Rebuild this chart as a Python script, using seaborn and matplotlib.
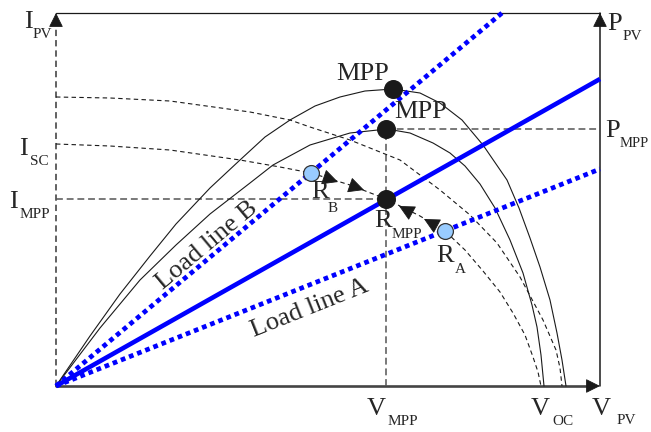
import numpy as np
import pandas as pd
import matplotlib
matplotlib.use("Agg")
import matplotlib.pyplot as plt
import seaborn as sns

# ---------------- data (schematic units) ----------------
# P-V curve, higher irradiance
pv_hi_v = [0, 34, 64, 94, 120, 154, 184, 209, 234, 259, 284, 309, 337, 364, 384, 406, 427, 451, 463, 474, 484, 494, 501, 506, 510]
pv_hi_p = [0, 50, 92, 130, 162, 198, 226, 249, 266, 280, 289, 295, 297, 293, 283, 266, 241, 206, 178, 148, 119, 86, 53, 26, 0]
# P-V curve, lower irradiance
pv_lo_v = [0, 44, 84, 120, 154, 194, 217, 254, 294, 331, 354, 377, 394, 409, 424, 439, 454, 467, 476, 481, 485, 488]
pv_lo_p = [0, 58, 106, 141, 172, 203, 221, 241, 253, 257, 253, 243, 233, 220, 202, 178, 146, 113, 81, 59, 31, 0]
# I-V curve, higher irradiance
iv_hi_v = [0, 54, 114, 194, 234, 254, 294, 344, 384, 414, 441, 464, 487, 500, 504, 506]
iv_hi_i = [289, 288, 285, 274, 266, 259, 246, 226, 196, 171, 143, 109, 66, 36, 18, 0]
# I-V curve, lower irradiance
iv_lo_v = [0, 54, 114, 184, 224, 255, 294, 330, 364, 389, 409, 427, 444, 457, 469, 477, 482, 485]
iv_lo_i = [242, 240, 236, 226, 219, 213, 201, 187, 170, 155, 136, 115, 94, 73, 51, 29, 14, 0]

# operating points
mpp_hi = (337, 297)
mpp_lo = (330, 257)
r_mpp = (330, 187)
r_b = (255, 213)
r_a = (389, 155)

# load lines (from origin to end point)
load_b_end = (446, 373)
load_mpp_end = (544, 307)
load_a_end = (544, 217)

v_axis_max = 544
y_axis_max = 373

# ---------------- style ----------------
sns.set_theme(style="white")
plt.rcParams["font.family"] = ["Liberation Serif", "DejaVu Serif"]

fig = plt.figure(figsize=(6.51, 4.32), dpi=100)
ax = fig.add_axes([0, 0, 1, 1])
ax.set_xlim(-56, 595)
ax.set_ylim(-46, 386)
ax.axis("off")

BLUE = "#0000ff"
GREY = "#555555"

def head(tip, direction, scale=16, color="k"):
    d = np.asarray(direction, float)
    d = d / np.hypot(*d)
    tail = np.asarray(tip) - d * 12
    ax.annotate("", xy=tip, xytext=tail,
                arrowprops=dict(arrowstyle="-|>,head_length=0.5,head_width=0.25",
                                mutation_scale=scale, color=color, lw=0.6,
                                shrinkA=0, shrinkB=0), zorder=6)

# frame / axes
ax.plot([0, 0], [0, y_axis_max - 6], color=GREY, lw=1.3, linestyle=(0, (3.5, 2.2)), zorder=2)
ax.plot([0, v_axis_max], [y_axis_max, y_axis_max], color="k", lw=0.9, zorder=2)
ax.plot([v_axis_max, v_axis_max], [0, y_axis_max], color="k", lw=1.1, zorder=2)
ax.plot([0, v_axis_max - 6], [0, 0], color="#444444", lw=1.9, zorder=2)
head((0, y_axis_max), (0, 1), scale=18)
head((v_axis_max, y_axis_max), (0, 1), scale=18)
head((v_axis_max, 0), (1, 0), scale=18)

# reference dashed lines
ref_ls = (0, (4.5, 2.5))
ax.plot([0, r_mpp[0]], [r_mpp[1], r_mpp[1]], color=GREY, lw=1.1, linestyle=ref_ls, zorder=2)
ax.plot([mpp_lo[0], v_axis_max], [mpp_lo[1], mpp_lo[1]], color=GREY, lw=1.1, linestyle=ref_ls, zorder=2)
ax.plot([mpp_lo[0], mpp_lo[0]], [0, mpp_lo[1]], color=GREY, lw=1.1, linestyle=ref_ls, zorder=2)

# curves
sns.lineplot(x=pv_hi_v, y=pv_hi_p, ax=ax, color="k", lw=0.8, errorbar=None, zorder=3)
sns.lineplot(x=pv_lo_v, y=pv_lo_p, ax=ax, color="k", lw=0.8, errorbar=None, zorder=3)
sns.lineplot(x=iv_hi_v, y=iv_hi_i, ax=ax, color="k", lw=0.8, errorbar=None,
             linestyle=(0, (4, 3)), zorder=3)
sns.lineplot(x=iv_lo_v, y=iv_lo_i, ax=ax, color="k", lw=0.8, errorbar=None,
             linestyle=(0, (4, 3)), zorder=3)

# load lines
ax.plot([0, load_mpp_end[0]], [0, load_mpp_end[1]], color=BLUE, lw=3.3, solid_capstyle="butt", zorder=4)
ax.plot([0, load_b_end[0]], [0, load_b_end[1]], color=BLUE, lw=3.4, linestyle=(0, (1, 0.85)), zorder=4)
ax.plot([0, load_a_end[0]], [0, load_a_end[1]], color=BLUE, lw=3.4, linestyle=(0, (1, 0.85)), zorder=4)

# arrows along the I-V curve toward R_MPP
dir_b = (r_mpp[0] - r_b[0], r_mpp[1] - r_b[1])
dir_a = (r_mpp[0] - r_a[0], r_mpp[1] - r_a[1])
head((282, 204), dir_b, scale=20)
head((308, 196), dir_b, scale=20)
head((343, 180), dir_a, scale=20)
head((368, 167), dir_a, scale=20)

# markers
pts_black = pd.DataFrame({"v": [mpp_hi[0], mpp_lo[0], r_mpp[0]], "y": [mpp_hi[1], mpp_lo[1], r_mpp[1]]})
pts_blue = pd.DataFrame({"v": [r_b[0], r_a[0]], "y": [r_b[1], r_a[1]]})
sns.scatterplot(data=pts_black, x="v", y="y", ax=ax, s=160, color="k", edgecolor="k", zorder=7)
sns.scatterplot(data=pts_blue, x="v", y="y", ax=ax, s=130, color="#99ccff", edgecolor="#333333",
                linewidth=0.9, zorder=7)

# labels
MAIN = 19
SUB = 11

def label(x, y, main, sx, sy, sub, subsize=SUB):
    ax.text(x, y, main, fontsize=MAIN, ha="left", va="baseline", zorder=8)
    if sub:
        ax.text(sx, sy, sub, fontsize=subsize, ha="left", va="baseline", zorder=8)

label(-32, 358, "I", -23, 348, "PV")
label(-37, 231, "I", -26, 221, "SC")
label(-47, 178, "I", -36, 168, "MPP")
label(311, -29, "V", 332, -39, "MPP")
label(475, -29, "V", 496, -39, "OC")
label(536, -29, "V", 561, -38, "PV")
label(551, 356, "P", 567, 346, "PV")
label(549, 249, "P", 564, 239, "MPP", subsize=10.5)
label(255, 188, "R", 272, 174, "B")
label(318, 159, "R", 336, 148, "MPP")
label(380, 124, "R", 399, 113, "A")

ax.text(307, 306, "MPP", fontsize=MAIN, ha="center", va="baseline", zorder=8)
ax.text(365, 268, "MPP", fontsize=MAIN, ha="center", va="baseline", zorder=8)

ang_b = np.degrees(np.arctan2(load_b_end[1], load_b_end[0]))
ang_a = np.degrees(np.arctan2(load_a_end[1], load_a_end[0]))
ax.text(151, 141, "Load line B", fontsize=MAIN, rotation=ang_b, rotation_mode="anchor",
        ha="center", va="center", zorder=8)
ax.text(254, 78, "Load line A", fontsize=MAIN, rotation=ang_a, rotation_mode="anchor",
        ha="center", va="center", zorder=8)

fig.savefig("out.png", dpi=100)
